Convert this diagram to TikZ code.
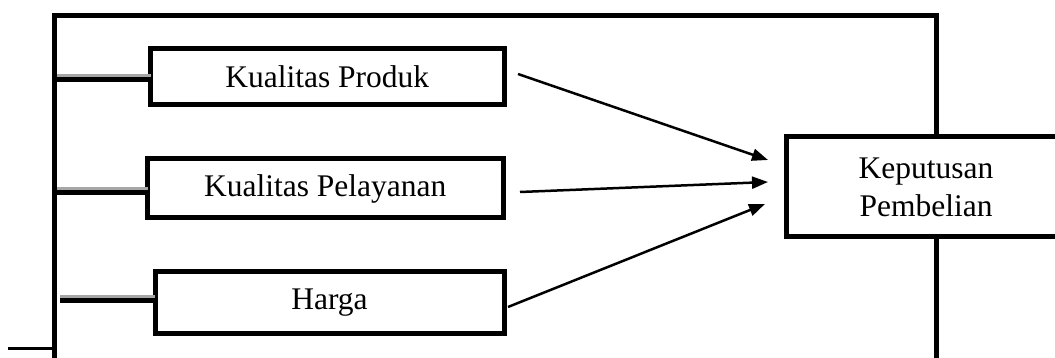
\documentclass[tikz,border=0pt]{standalone}
\usepackage{fontspec}
\setmainfont{Liberation Serif}
\usetikzlibrary{arrows.meta}
\begin{document}
\begin{tikzpicture}[x=1pt,y=-1pt,
  box/.style={draw=black,line width=5pt,fill=white,inner sep=0pt,outer sep=0pt,
    font=\fontsize{31.5}{38}\selectfont,align=center},
  frame/.style={line width=5pt,line cap=rect},
  conn/.style={line width=5pt},
  shade/.style={line width=3pt,draw=black!35},
  arr/.style={line width=2.5pt,-{Triangle[length=16pt,width=12pt]}}]
\useasboundingbox (0,0) rectangle (1055,358);
\clip (0,0) rectangle (1055,358);
% frame
\coordinate (tl) at (54.5,15.5);
\coordinate (tr) at (936,15.5);
\coordinate (bl) at (54.5,362);
\coordinate (br) at (936,362);
\coordinate (stubL) at (8,348);
\coordinate (stubR) at (54.5,348);
% boxes
\node[box,minimum width=353.5pt,minimum height=56pt] (b1) at (327.25,77) {Kualitas Produk};
\node[box,minimum width=355.5pt,minimum height=59pt] (b2) at (325.25,188.5) {Kualitas Pelayanan};
\node[box,minimum width=349pt,minimum height=62pt] (b3) at (329.5,302.5) {Harga};
\node[box,minimum width=280pt,minimum height=100pt] (b4) at (926,187) {Keputusan\\Pembelian};
% frame lines
\draw[frame] (bl) -- (tl) -- (tr) -- (tr |- b4.north);
\draw[frame] (br |- b4.south) -- (br);
\draw[line width=3pt] (stubL) -- (stubR);
% connectors from frame to boxes
\coordinate (c1) at (57,79.5);
\coordinate (c2) at (57,192.5);
\coordinate (c3) at (60,300.5);
\draw[shade] ([yshift=4pt]c1) -- ([yshift=4pt]c1 -| b1.west);
\draw[conn] (c1) -- (c1 -| b1.west);
\draw[shade] ([yshift=4pt]c2) -- ([yshift=4pt]c2 -| b2.west);
\draw[conn] (c2) -- (c2 -| b2.west);
\draw[shade] ([yshift=4pt]c3) -- ([yshift=4pt]c3 -| b3.west);
\draw[conn] (c3) -- (c3 -| b3.west);
% arrows
\draw[arr] ([shift={(14,-3)}]b1.east) -- ([shift={(-18,-27)}]b4.west);
\draw[arr] ([shift={(17,3.5)}]b2.east) -- ([shift={(-18,-5)}]b4.west);
\draw[arr] ([shift={(4,4.5)}]b3.east) -- ([shift={(-21,17)}]b4.west);
\end{tikzpicture}
\end{document}
